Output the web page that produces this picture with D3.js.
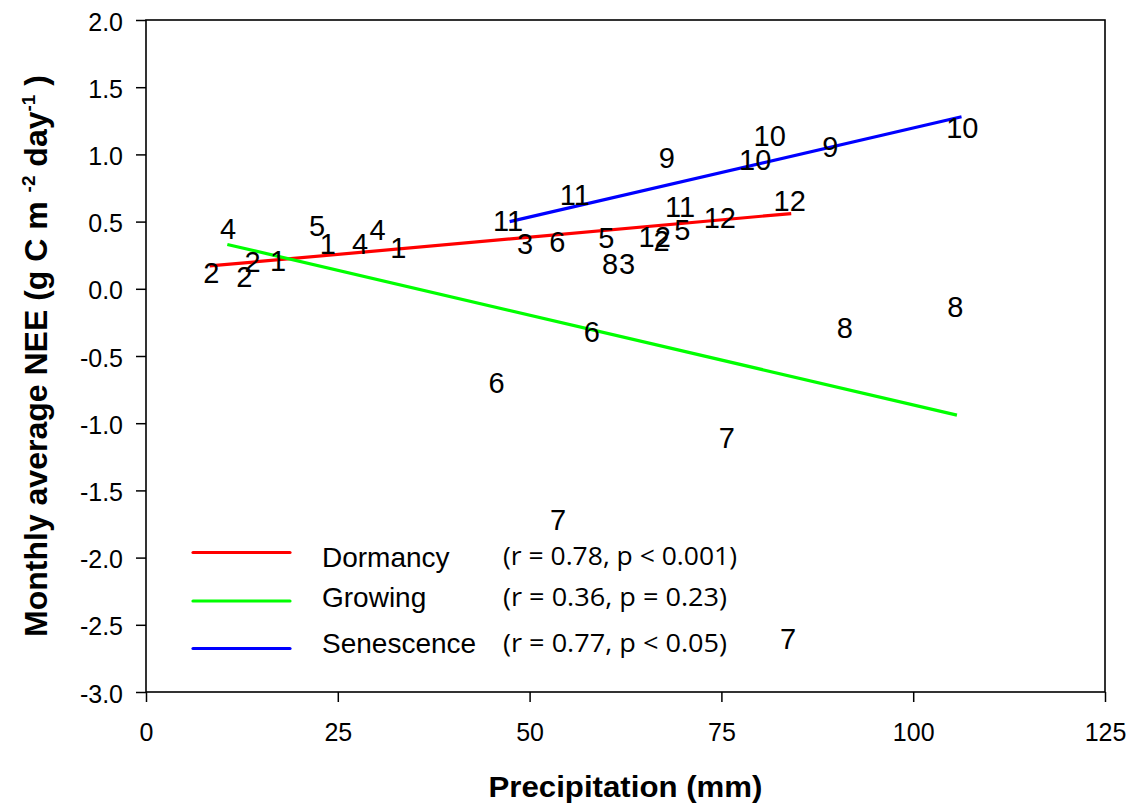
<!DOCTYPE html>
<html>
<head>
<meta charset="utf-8">
<script src="https://cdn.jsdelivr.net/npm/d3@7"></script>
<style>
  html, body { margin: 0; padding: 0; background: #fff; }
  svg { display: block; }
</style>
</head>
<body>
<svg id="chart" width="1133" height="809"></svg>
<script>
// ---- data ----
const monthLabels = ["4","2","2","2","1","5","1","4","4","1",
                     "11","11","3","6","5","8","3","12","2","5","11","12",
                     "9","10","10","9","10","12",
                     "6","6","7","8","8","7","7"];
const precip = [10.7, 8.5, 13.9, 12.8, 17.2, 22.3, 23.7, 27.9, 30.2, 32.9,
                47.2, 55.9, 49.4, 53.6, 60.0, 60.5, 62.7, 66.3, 67.2, 69.9, 69.6, 74.8,
                67.9, 81.3, 79.4, 89.2, 106.4, 83.9,
                58.1, 45.7, 75.7, 91.1, 105.5, 53.7, 83.7];
const nee = [0.45, 0.12, 0.20, 0.09, 0.21, 0.47, 0.34, 0.34, 0.44, 0.31,
             0.51, 0.70, 0.34, 0.35, 0.38, 0.19, 0.19, 0.39, 0.36, 0.44, 0.61, 0.53,
             0.98, 1.14, 0.96, 1.06, 1.20, 0.66,
             -0.32, -0.70, -1.11, -0.29, -0.13, -1.72, -2.60];

const seasons = ["Dormancy", "Growing", "Senescence"];
const fitX0 = [8.3, 10.6, 47.4];
const fitY0 = [0.17, 0.33, 0.50];
const fitX1 = [84.1, 105.7, 106.3];
const fitY1 = [0.56, -0.94, 1.28];
const stats = ["(r = 0.78, p < 0.001)", "(r = 0.36, p = 0.23)", "(r = 0.77, p < 0.05)"];

const xTicks = [0, 25, 50, 75, 100, 125];
const yTicks = [-3.0, -2.5, -2.0, -1.5, -1.0, -0.5, 0.0, 0.5, 1.0, 1.5, 2.0];

// ---- styles ----
const seasonColors = ["#ff0000", "#00ff00", "#0000ff"];
const FONT = "'Liberation Sans', Arial, Helvetica, sans-serif";

// ---- layout ----
const svg = d3.select("#chart");
const L = 146, R = 1105, T = 20, B = 692;

svg.append("rect").attr("width", 1133).attr("height", 809).attr("fill", "#fff");

const x = d3.scaleLinear().domain([0, 125]).range([L, R]);
const y = d3.scaleLinear().domain([-3, 2]).range([B, T]);

// frame
svg.append("rect")
  .attr("x", L).attr("y", T).attr("width", R - L).attr("height", B - T)
  .attr("fill", "none").attr("stroke", "#000").attr("stroke-width", 1.6);

// axes
const fmt1 = d => d3.format(".1f")(d).replace("\u2212", "-");
const yAxis = d3.axisLeft(y).tickValues(yTicks).tickFormat(fmt1)
  .tickSize(10).tickPadding(13);
const gy = svg.append("g").attr("transform", `translate(${L},0)`).call(yAxis);
gy.select(".domain").remove();
gy.selectAll(".tick line").attr("stroke", "#000").attr("stroke-width", 1.5);
gy.selectAll(".tick text").attr("font-family", FONT).attr("font-size", 25)
  .attr("fill", "#000").attr("dy", "0.40em");

const xAxis = d3.axisBottom(x).tickValues(xTicks).tickFormat(d3.format("d"))
  .tickSize(10).tickPadding(21);
const gx = svg.append("g").attr("transform", `translate(0,${B})`).call(xAxis);
gx.select(".domain").remove();
gx.selectAll(".tick line").attr("stroke", "#000").attr("stroke-width", 1.5);
gx.selectAll(".tick text").attr("font-family", FONT).attr("font-size", 25)
  .attr("fill", "#000");

// axis titles
svg.append("text")
  .attr("x", (L + R) / 2).attr("y", 797)
  .attr("text-anchor", "middle")
  .attr("font-family", FONT).attr("font-weight", "bold").attr("font-size", 30)
  .attr("textLength", 274).attr("lengthAdjust", "spacingAndGlyphs")
  .text("Precipitation (mm)");

const yt = svg.append("text")
  .attr("transform", `translate(47,${(T + B) / 2}) rotate(-90)`)
  .attr("text-anchor", "middle")
  .attr("font-family", FONT).attr("font-weight", "bold").attr("font-size", 32);
yt.append("tspan").text("Monthly average NEE (g C m ");
yt.append("tspan").attr("dy", -12).attr("font-size", 19).text("-2");
yt.append("tspan").attr("dy", 12).text(" day");
yt.append("tspan").attr("dy", -12).attr("font-size", 19).text("-1");
yt.append("tspan").attr("dy", 12).text(" )");

// regression lines
const fits = seasons.map((s, i) => ({
  name: s, color: seasonColors[i],
  pts: [[fitX0[i], fitY0[i]], [fitX1[i], fitY1[i]]]
}));
const line = d3.line().x(d => x(d[0])).y(d => y(d[1]));
svg.append("g").selectAll("path").data(fits).join("path")
  .attr("d", d => line(d.pts))
  .attr("fill", "none").attr("stroke", d => d.color).attr("stroke-width", 3.2);

// month labels as markers
const pts = monthLabels.map((m, i) => ({ m, px: precip[i], v: nee[i] }));
svg.append("g").selectAll("text").data(pts).join("text")
  .attr("x", d => x(d.px)).attr("y", d => y(d.v))
  .attr("dy", "0.36em")
  .attr("text-anchor", "middle")
  .attr("font-family", FONT).attr("font-size", 29).attr("fill", "#000")
  .text(d => d.m);

// legend
const legLineY = [552.5, 601, 648.5];
const legTextY = [566.5, 607, 653];
const statY = [565, 606, 652];
const statLen = [234, 224, 224];
const lg = svg.append("g");
fits.forEach((f, i) => {
  lg.append("line").attr("x1", 193).attr("x2", 290)
    .attr("y1", legLineY[i]).attr("y2", legLineY[i])
    .attr("stroke", f.color).attr("stroke-width", 3.2).attr("stroke-linecap", "round");
  lg.append("text").attr("x", 322).attr("y", legTextY[i])
    .attr("font-family", FONT).attr("font-size", 28).attr("fill", "#000")
    .text(f.name);
  lg.append("text").attr("x", 503).attr("y", statY[i])
    .attr("font-family", "'Open Sans', 'Noto Sans', sans-serif").attr("font-size", 25)
    .attr("textLength", statLen[i]).attr("lengthAdjust", "spacingAndGlyphs")
    .attr("fill", "#000")
    .text(stats[i]);
});
</script>
</body>
</html>
